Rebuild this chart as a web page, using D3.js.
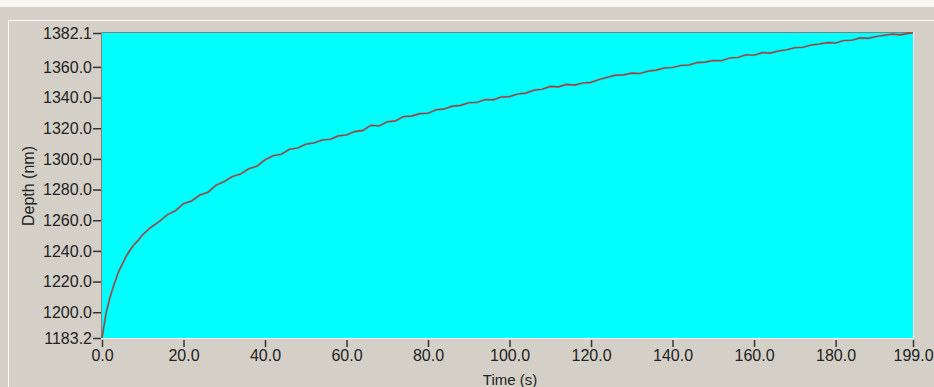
<!DOCTYPE html>
<html>
<head>
<meta charset="utf-8">
<script src="https://cdn.jsdelivr.net/npm/d3@7"></script>
<style>
  body { margin: 0; background: #f6f5f2; }
  svg { display: block; }
  .tick text { font-family: "Liberation Sans", Arial, sans-serif; font-size: 16px; fill: #222; }
</style>
</head>
<body>
<div id="chart"></div>
<script>
// data (time in s, depth in nm)
var times = [0, 1, 2, 3, 4, 5, 6, 7, 8, 9, 10, 12, 14, 16, 18, 20, 22, 24, 26, 28,
  30, 32, 34, 36, 38, 40, 42, 44, 46, 48, 50, 52, 54, 56, 58, 60, 62, 64, 66, 68,
  70, 72, 74, 76, 78, 80, 82, 84, 86, 88, 90, 92, 94, 96, 98, 100, 102, 104, 106, 108,
  110, 112, 114, 116, 118, 120, 122, 124, 126, 128, 130, 132, 134, 136, 138, 140, 142, 144, 146, 148,
  150, 152, 154, 156, 158, 160, 162, 164, 166, 168, 170, 172, 174, 176, 178, 180, 182, 184, 186, 188,
  190, 192, 194, 196, 198, 199];

var depths = [1183.2, 1199.5, 1210.0, 1218.5, 1226.0, 1231.5, 1236.8, 1241.0, 1244.5, 1247.2, 1250.6,
  1255.4, 1259.1, 1263.5, 1266.2, 1270.8, 1272.6, 1276.4, 1278.3, 1282.9,
  1285.2, 1288.5, 1290.1, 1293.6, 1295.2, 1299.4, 1302.1, 1303.0, 1306.3, 1307.1,
  1309.6, 1310.4, 1312.3, 1312.8, 1315.0, 1315.6, 1317.8, 1318.6, 1321.9, 1321.5,
  1324.2, 1324.8, 1327.6, 1327.9, 1329.5, 1329.8, 1332.0, 1332.6, 1334.4, 1334.9,
  1336.6, 1336.8, 1338.7, 1338.5, 1340.4, 1340.6, 1342.3, 1342.9, 1344.8, 1345.4,
  1347.3, 1347.0, 1348.6, 1348.1, 1349.5, 1349.9, 1351.8, 1353.2, 1354.6, 1354.8,
  1355.9, 1355.7, 1357.2, 1357.9, 1359.3, 1359.6, 1360.9, 1361.2, 1362.8, 1363.1,
  1364.2, 1364.0, 1365.8, 1366.1, 1367.9, 1367.6, 1369.3, 1369.0, 1370.4, 1371.2,
  1372.5, 1372.8, 1374.3, 1374.9, 1375.8, 1375.6, 1377.2, 1377.4, 1378.9, 1378.6,
  1379.8, 1380.6, 1381.4, 1380.9, 1382.0, 1382.1];

var xTicks = [0, 20, 40, 60, 80, 100, 120, 140, 160, 180, 199];
var yTicks = [1183.2, 1200, 1220, 1240, 1260, 1280, 1300, 1320, 1340, 1360, 1382.1];

var W = 934, H = 387;
var margin = { top: 33, right: 21, bottom: 49, left: 102 };
var width = W - margin.left - margin.right;
var height = H - margin.top - margin.bottom;

var svg = d3.select("#chart").append("svg")
  .attr("width", W)
  .attr("height", H);

// window / group box background
svg.append("rect").attr("x", 0).attr("y", 7).attr("width", W).attr("height", H - 7).attr("fill", "#d4d0c8");
svg.append("line").attr("x1", 8.5).attr("x2", W).attr("y1", 20.5).attr("y2", 20.5).attr("stroke", "#fbfaf8");
svg.append("line").attr("x1", 8.5).attr("x2", 8.5).attr("y1", 20.5).attr("y2", H).attr("stroke", "#fbfaf8");

var g = svg.append("g")
  .attr("transform", "translate(" + margin.left + "," + margin.top + ")");

var x = d3.scaleLinear().domain([0, 199]).range([0, width]);
var y = d3.scaleLinear().domain([1183.2, 1382.1]).range([height, 0]);

// plot area with sunken border
g.append("rect").attr("width", width).attr("height", height).attr("fill", "#00ffff");
g.append("line").attr("x1", -0.5).attr("x2", width).attr("y1", -0.5).attr("y2", -0.5).attr("stroke", "#808080");
g.append("line").attr("x1", -0.5).attr("x2", -0.5).attr("y1", -0.5).attr("y2", height).attr("stroke", "#808080");
g.append("line").attr("x1", -0.5).attr("x2", width + 0.5).attr("y1", height + 0.5).attr("y2", height + 0.5).attr("stroke", "#ffffff");
g.append("line").attr("x1", width + 0.5).attr("x2", width + 0.5).attr("y1", -0.5).attr("y2", height + 0.5).attr("stroke", "#ffffff");

var xAxis = d3.axisBottom(x).tickValues(xTicks).tickFormat(d3.format(".1f")).tickSize(7).tickPadding(3);
var yAxis = d3.axisLeft(y).tickValues(yTicks).tickFormat(d3.format(".1f")).tickSize(8).tickPadding(1);

var gx = g.append("g").attr("transform", "translate(0," + (height + 2) + ")").call(xAxis);
var gy = g.append("g").attr("transform", "translate(-1,0)").call(yAxis);
[gx, gy].forEach(function (a) {
  a.select(".domain").remove();
  a.selectAll(".tick line").attr("stroke", "#333").attr("stroke-width", 1.5);
});

var pts = times.map(function (t, i) { return [t, depths[i]]; });
var line = d3.line()
  .x(function (d) { return x(d[0]); })
  .y(function (d) { return y(d[1]); });

g.append("path")
  .datum(pts)
  .attr("fill", "none")
  .attr("stroke", "#5a6a6a")
  .attr("stroke-width", 2.2)
  .attr("stroke-opacity", 0.5)
  .attr("d", line);
g.append("path")
  .datum(pts)
  .attr("fill", "none")
  .attr("stroke", "#b83232")
  .attr("stroke-width", 1.1)
  .attr("d", line);

// axis titles
svg.append("text")
  .attr("transform", "translate(34,186) rotate(-90)")
  .attr("text-anchor", "middle")
  .style("font-family", "Liberation Sans, Arial, sans-serif")
  .style("font-size", "16px")
  .attr("fill", "#222")
  .text("Depth (nm)");

svg.append("text")
  .attr("x", 510)
  .attr("y", 385)
  .attr("text-anchor", "middle")
  .style("font-family", "Liberation Sans, Arial, sans-serif")
  .style("font-size", "15px")
  .attr("fill", "#222")
  .text("Time (s)");
</script>
</body>
</html>
